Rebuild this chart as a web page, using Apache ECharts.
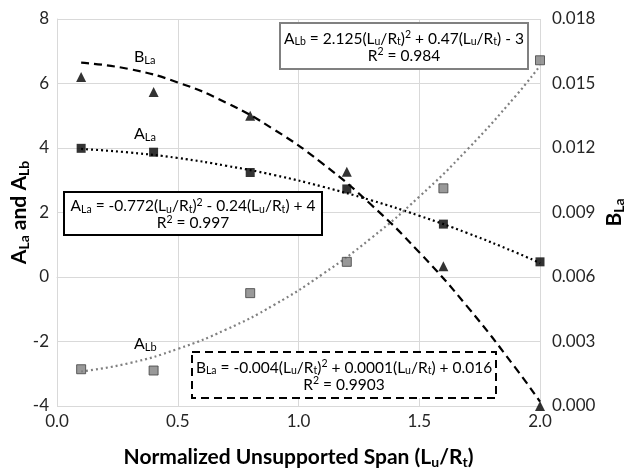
<!DOCTYPE html>
<html><head><meta charset="utf-8">
<script src="https://cdn.jsdelivr.net/npm/echarts@6/dist/echarts.min.js"></script>
<style>html,body{margin:0;padding:0;background:#fff}#c{width:629px;height:472px}</style>
</head><body><div id="c"></div>
<script>
// Measured points
var spanX = [0.1, 0.4, 0.8, 1.2, 1.6, 2.0];
var aLa = [3.99, 3.87, 3.24, 2.73, 1.64, 0.47];
var aLb = [-2.86, -2.9, -0.5, 0.47, 2.75, 6.72];
var bLa = [0.0153, 0.0146, 0.0135, 0.0109, 0.0065, 0.0];
// Trendlines
var trendX = [0.1, 0.3, 0.5, 0.7, 0.9, 1.1, 1.3, 1.5, 1.7, 1.9, 2.0];
var aLaTrend = [3.97, 3.86, 3.69, 3.45, 3.16, 2.80, 2.38, 1.90, 1.36, 0.76, 0.43];
var aLbTrend = [-2.93, -2.67, -2.23, -1.63, -0.86, 0.09, 1.20, 2.49, 3.96, 5.62, 6.55];
var bLaTrend = [0.01597, 0.01567, 0.01505, 0.01411, 0.01285, 0.01127, 0.00937, 0.00715, 0.00461, 0.00175, 0.0002];
var xTicks = ['0.0', '0.5', '1.0', '1.5', '2.0'];

function pairs(xs, ys) { return xs.map(function (x, i) { return [x, ys[i]]; }); }

var FONT = 'Lato';
var rich = {
  n: {fontSize: 15.5, fontFamily: FONT, color: '#000'},
  s: {fontSize: 10.5, fontFamily: FONT, color: '#000', padding: [7, 0, 0, 0]},
  p: {fontSize: 10.5, fontFamily: FONT, color: '#000', padding: [0, 0, 7, 0]}
};
var lblRich = {
  n: {fontSize: 16, fontFamily: FONT, color: '#000'},
  s: {fontSize: 11, fontFamily: FONT, color: '#000', padding: [7, 0, 0, 0]}
};
var eqA_La = '{n|A}{s|La}{n| = -0.772(L}{s|u}{n|/R}{s|t}{n|)}{p|2}{n| - 0.24(L}{s|u}{n|/R}{s|t}{n|) + 4}\n{n|R}{p|2}{n| = 0.997}';
var eqA_Lb = '{n|A}{s|Lb}{n| = 2.125(L}{s|u}{n|/R}{s|t}{n|)}{p|2}{n| + 0.47(L}{s|u}{n|/R}{s|t}{n|) - 3}\n{n|R}{p|2}{n| = 0.984}';
var eqB_La = '{n|B}{s|La}{n| = -0.004(L}{s|u}{n|/R}{s|t}{n|)}{p|2}{n| + 0.0001(L}{s|u}{n|/R}{s|t}{n|) + 0.016}\n{n|R}{p|2}{n| = 0.9903}';

function box(l, t, r, b, color, dash, txt) {
  return [
    {type: 'rect', shape: {x: l, y: t, width: r - l, height: b - t}, z: 10,
     style: {fill: '#fff', stroke: color, lineWidth: 2, lineDash: dash}},
    {type: 'text', x: (l + r) / 2, y: (t + b) / 2 + 1, z: 11,
     style: {text: txt, rich: rich, align: 'center', verticalAlign: 'middle', lineHeight: 17}}
  ];
}
function lbl(x, y, main, sub) {
  return {type: 'text', x: x, y: y, z: 11,
    style: {text: '{n|' + main + '}{s|' + sub + '}', rich: lblRich, align: 'left', verticalAlign: 'middle'}};
}
var titleRich = {
  b: {fontSize: 21, fontWeight: 'bold', fontFamily: FONT, color: '#000'},
  bs: {fontSize: 14, fontWeight: 'bold', fontFamily: FONT, color: '#000', padding: [9, 0, 0, 0]}
};

var chart = echarts.init(document.getElementById('c'));
var gridColor = '#d9d9d9';
var tickColor = '#262626';
chart.setOption({
  animation: false,
  backgroundColor: '#fff',
  textStyle: {fontFamily: FONT},
  grid: {left: 57, right: 89, top: 19, bottom: 66, containLabel: false, outerBoundsMode: 'none'},
  xAxis: {
    type: 'value', min: 0, max: 2, interval: 0.5,
    axisLine: {show: true, lineStyle: {color: gridColor}},
    axisTick: {show: false},
    splitLine: {show: true, lineStyle: {color: gridColor}},
    axisLabel: {fontSize: 17, color: tickColor, margin: 7, formatter: function (v) { return xTicks[Math.round(v / 0.5)]; }},
    name: '{b|Normalized Unsupported Span (L}{bs|u}{b|/R}{bs|t}{b|)}',
    nameLocation: 'middle', nameGap: 40,
    nameTextStyle: {rich: titleRich}
  },
  yAxis: [{
    type: 'value', min: -4, max: 8, interval: 2,
    axisLine: {show: true, lineStyle: {color: gridColor}},
    axisTick: {show: false},
    splitLine: {show: true, lineStyle: {color: gridColor}},
    axisLabel: {fontSize: 17, color: tickColor, margin: 8},
    name: '{b|A}{bs|La}{b| and A}{bs|Lb}',
    nameLocation: 'middle', nameRotate: 90, nameGap: 26, nameMoveOverlap: false,
    nameTextStyle: {rich: titleRich}
  }, {
    type: 'value', min: 0, max: 0.018, interval: 0.003,
    axisLine: {show: false},
    axisTick: {show: false},
    splitLine: {show: false},
    axisLabel: {fontSize: 17, color: tickColor, margin: 12, formatter: function (v) { return v.toFixed(3); }},
    name: '{b|B}{bs|La}',
    nameLocation: 'middle', nameRotate: 90, nameGap: 63, nameMoveOverlap: false,
    nameTextStyle: {rich: titleRich}
  }],
  series: [
    {type: 'line', data: pairs(trendX, aLaTrend), smooth: true, showSymbol: false, symbol: 'none',
     lineStyle: {color: '#000', width: 2.2, type: [2, 3]}, z: 3},
    {type: 'line', data: pairs(trendX, aLbTrend), smooth: true, showSymbol: false, symbol: 'none',
     lineStyle: {color: '#808080', width: 2.2, type: [2, 3]}, z: 3},
    {type: 'line', yAxisIndex: 1, data: pairs(trendX, bLaTrend), smooth: true, showSymbol: false, symbol: 'none',
     lineStyle: {color: '#000', width: 2.2, type: [8, 5]}, z: 3},
    {type: 'scatter', data: pairs(spanX, aLa), symbol: 'rect', symbolSize: 9,
     itemStyle: {color: '#000'}, z: 4},
    {type: 'scatter', data: pairs(spanX, aLb), symbol: 'rect', symbolSize: 9,
     itemStyle: {color: '#7f7f7f', borderColor: '#404040', borderWidth: 1}, z: 4},
    {type: 'scatter', yAxisIndex: 1, data: pairs(spanX, bLa), symbol: 'triangle', symbolSize: 10,
     itemStyle: {color: '#000'}, z: 4}
  ],
  graphic: [].concat(
    box(280, 23, 528, 69, '#808080', null, eqA_Lb),
    box(64, 192, 322, 235, '#000', null, eqA_La),
    box(192, 352, 496, 398, '#000', [8, 5], eqB_La),
    [lbl(134, 57, 'B', 'La'), lbl(134, 134, 'A', 'La'), lbl(134, 344, 'A', 'Lb')]
  )
});
</script></body></html>
